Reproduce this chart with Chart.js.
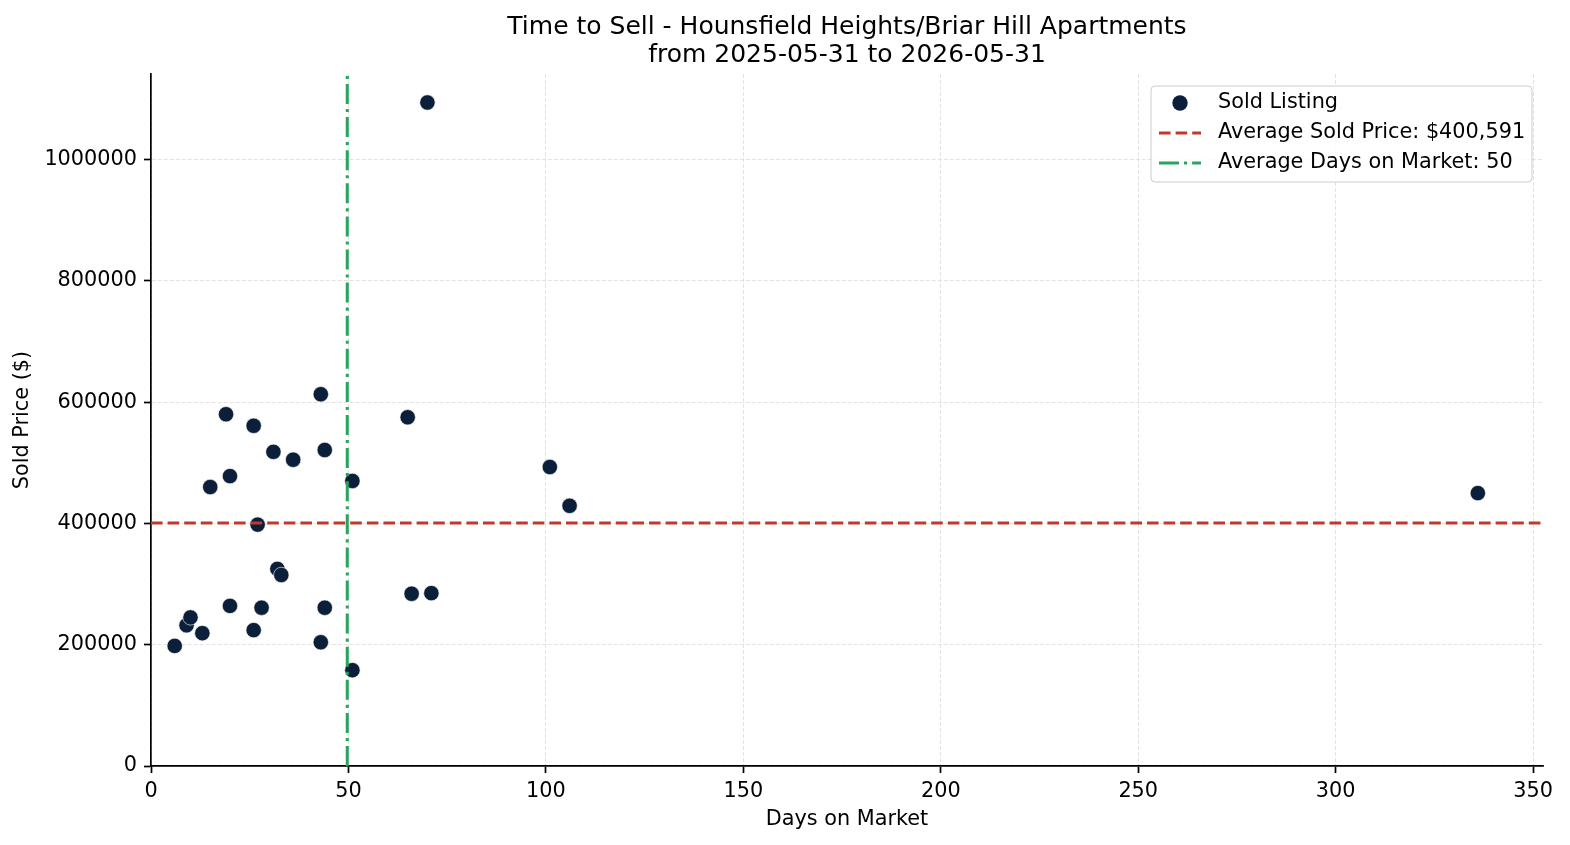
<!DOCTYPE html>
<html>
<head>
<meta charset="utf-8">
<script src="https://cdn.jsdelivr.net/npm/chart.js@4/dist/chart.umd.min.js"></script>
<style>
  body { margin: 0; background: #fff; }
  canvas { display: block; }
</style>
</head>
<body>
<canvas id="scatterChart" width="1570" height="845"></canvas>
<script>
// Sold listings
const daysOnMarket = [6, 9, 10, 13, 15, 19, 20, 20, 26, 26, 27, 28, 31, 32, 33, 36,
    43, 43, 44, 44, 51, 51, 65, 66, 70, 71, 101, 106, 336];
const soldPrices = [198000, 232000, 245000, 219000, 460000, 580000, 478000, 264000,
    561000, 224000, 398000, 261000, 518000, 325000, 315000, 505000,
    613000, 204000, 521000, 261000, 470000, 158000, 575000, 284000,
    1094000, 285000, 493000, 429000, 450000];

const avgPrice = 400591;
const avgDays = 49.7;

const titleLines = ['Time to Sell - Hounsfield Heights/Briar Hill Apartments', 'from 2025-05-31 to 2026-05-31'];
const xTicks = [0, 50, 100, 150, 200, 250, 300, 350];
const yTicks = [0, 200000, 400000, 600000, 800000, 1000000];
const xMax = 352.5;
const yMax = 1141000;

const FONT = 'DejaVu Sans';
const pointColor = '#0b1f3a';
const priceColor = '#c0392b';
const daysColor = '#27a55f';
const priceDash = [11.6, 5];
const daysDash = [20, 5, 3.1, 5];

// Legend drawn inside the plot area, top right (like matplotlib's 'best' spot)
const insideLegend = {
    id: 'insideLegend',
    afterDraw(chart) {
        const ctx = chart.ctx;
        const area = chart.chartArea;
        const boxW = 381, boxH = 96;
        const x0 = area.right - 11 - boxW;
        const y0 = area.top + 12;

        ctx.save();
        ctx.beginPath();
        ctx.roundRect(x0, y0, boxW, boxH, 4);
        ctx.fillStyle = 'rgba(255,255,255,0.85)';
        ctx.fill();
        ctx.strokeStyle = '#cccccc';
        ctx.lineWidth = 1;
        ctx.stroke();

        ctx.font = '20.8px "' + FONT + '"';
        ctx.textBaseline = 'middle';
        ctx.fillStyle = '#000';

        chart.data.datasets.forEach((ds, i) => {
            const cy = y0 + 17 + i * 30;
            if (ds.showLine) {
                ctx.beginPath();
                ctx.setLineDash(ds.borderDash);
                ctx.strokeStyle = ds.borderColor;
                ctx.lineWidth = ds.borderWidth;
                ctx.moveTo(x0 + 8, cy);
                ctx.lineTo(x0 + 50, cy);
                ctx.stroke();
                ctx.setLineDash([]);
            } else {
                ctx.beginPath();
                ctx.arc(x0 + 29, cy, ds.pointRadius, 0, Math.PI * 2);
                ctx.fillStyle = ds.backgroundColor;
                ctx.fill();
            }
            ctx.fillStyle = '#000';
            ctx.fillText(ds.label, x0 + 67, cy);
        });
        ctx.restore();
    }
};

const gridStyle = {
    color: '#dcdcdc',
    lineWidth: 0.8,
    tickColor: '#000',
    tickWidth: 1.7,
    tickLength: 7
};

new Chart(document.getElementById('scatterChart'), {
    type: 'scatter',
    data: {
        datasets: [
            {
                label: 'Sold Listing',
                data: daysOnMarket.map((d, i) => ({ x: d, y: soldPrices[i] })),
                backgroundColor: pointColor,
                borderColor: '#ffffff',
                borderWidth: 0.6,
                pointRadius: 7.7,
                pointHoverRadius: 7.7,
                order: 2
            },
            {
                label: `Average Sold Price: $${avgPrice.toLocaleString('en-US')}`,
                data: [{ x: 0, y: avgPrice }, { x: xMax, y: avgPrice }],
                showLine: true,
                borderColor: priceColor,
                backgroundColor: priceColor,
                borderWidth: 3,
                borderDash: priceDash,
                pointRadius: 0,
                order: 1
            },
            {
                label: `Average Days on Market: ${Math.round(avgDays)}`,
                data: [{ x: avgDays, y: 0 }, { x: avgDays, y: yMax }],
                showLine: true,
                borderColor: daysColor,
                backgroundColor: daysColor,
                borderWidth: 3,
                borderDash: daysDash,
                pointRadius: 0,
                order: 0
            }
        ]
    },
    options: {
        responsive: false,
        animation: false,
        devicePixelRatio: 1,
        layout: { padding: { left: 0, right: 27, top: 0, bottom: 0 } },
        plugins: {
            legend: { display: false },
            tooltip: { enabled: false },
            title: {
                display: true,
                fullSize: false,
                text: titleLines,
                color: '#000',
                font: { family: FONT, size: 25, weight: 'normal', lineHeight: 1.12 },
                padding: { top: 13, bottom: 5 }
            }
        },
        scales: {
            x: {
                type: 'linear',
                min: 0,
                max: xMax,
                afterFit: scale => { scale.height = 79; },
                afterBuildTicks: scale => { scale.ticks = xTicks.map(v => ({ value: v })); },
                ticks: {
                    color: '#000',
                    font: { family: FONT, size: 20.8 },
                    padding: 6,
                    maxRotation: 0,
                    includeBounds: false
                },
                grid: gridStyle,
                border: { display: true, color: '#000', width: 1.7, dash: [4, 2] },
                title: {
                    display: true,
                    text: 'Days on Market',
                    color: '#000',
                    font: { family: FONT, size: 20.8 },
                    padding: { top: 0, bottom: 13 }
                }
            },
            y: {
                type: 'linear',
                min: 0,
                max: yMax,
                afterFit: scale => { scale.width = 151; },
                afterBuildTicks: scale => { scale.ticks = yTicks.map(v => ({ value: v })); },
                ticks: {
                    color: '#000',
                    font: { family: FONT, size: 20.8 },
                    padding: 7,
                    includeBounds: false,
                    callback: v => String(v)
                },
                grid: gridStyle,
                border: { display: true, color: '#000', width: 1.7, dash: [4, 2] },
                title: {
                    display: true,
                    text: 'Sold Price ($)',
                    color: '#000',
                    font: { family: FONT, size: 20.8 },
                    padding: { top: 10, bottom: 0 }
                }
            }
        }
    },
    plugins: [insideLegend]
});
</script>
</body>
</html>
